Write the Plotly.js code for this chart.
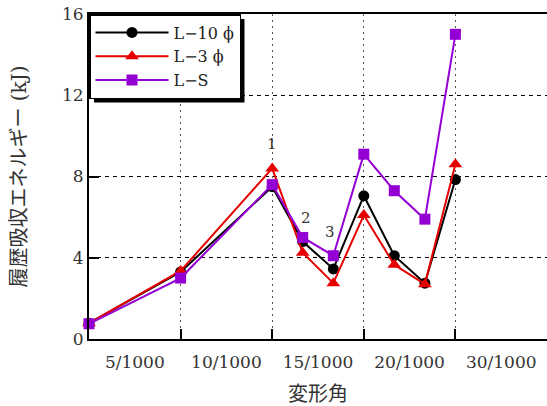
<!DOCTYPE html>
<html><head><meta charset="utf-8">
<script src="https://cdn.plot.ly/plotly-3.0.1.min.js"></script>
<style>html,body{margin:0;padding:0;background:#fff}#c{width:547px;height:406px}</style>
</head><body><div id="c"></div>
<script>
// deformation step (axis units: 1 per amplitude band)
const steps = [0, 1, 2, 2.333, 2.667, 3, 3.333, 3.667, 4];
const L10 = [0.78, 3.3, 7.5, 4.8, 3.45, 7.05, 4.1, 2.75, 7.85];
const L3  = [0.78, 3.35, 8.4, 4.25, 2.75, 6.1, 3.65, 2.7, 8.6];
const LS  = [0.75, 3.0, 7.6, 5.0, 4.1, 9.1, 7.3, 5.9, 15.0];
const seriesNames = ['L\u221210 \u03d5', 'L\u22123 \u03d5', 'L\u2212S'];
const bandCenters = [0.5, 1.5, 2.5, 3.5, 4.5];
const bandLabels = ['5/1000', '10/1000', '15/1000', '20/1000', '30/1000'];
const noteText = ['1', '2', '3'];
const noteX = [2, 2.37, 2.63];
const noteY = [9.6, 5.95, 5.25];

const FONT = 'DejaVu Serif, Liberation Serif, serif';
const JFONT = 'DejaVu Serif, Noto Sans CJK JP, serif';

const traces = [
  {x: steps, y: L10, name: seriesNames[0], mode: 'lines+markers', cliponaxis: false,
   line: {color: '#000000', width: 2}, marker: {symbol: 'circle', size: 11, color: '#000000'}},
  {x: steps, y: L3, name: seriesNames[1], mode: 'lines+markers', cliponaxis: false,
   line: {color: '#e60000', width: 2}, marker: {symbol: 'triangle-up', size: 12, color: '#e60000'}},
  {x: steps, y: LS, name: seriesNames[2], mode: 'lines+markers', cliponaxis: false,
   line: {color: '#9400d3', width: 2}, marker: {symbol: 'square', size: 11, color: '#9400d3'}},
  {x: bandCenters, y: bandCenters.map(() => null), xaxis: 'x2', showlegend: false, hoverinfo: 'skip', mode: 'markers'}
];

const PW = 458, PH = 325;
const layout = {
  width: 547, height: 406,
  margin: {l: 89, r: 0, t: 14, b: 67},
  paper_bgcolor: '#fff', plot_bgcolor: '#fff',
  showlegend: true,
  legend: {x: 0, y: 1, xanchor: 'left', yanchor: 'top', bgcolor: '#fff',
    bordercolor: '#000', borderwidth: 1.5, font: {family: FONT, size: 16, color: '#222'},
    itemwidth: 73, tracegroupgap: 0},
  xaxis: {range: [0, 5], tickvals: [1, 2, 3, 4], showticklabels: false,
    ticks: 'inside', ticklen: 10, tickwidth: 2, tickcolor: '#000',
    showline: true, linecolor: '#000', linewidth: 2, mirror: true,
    showgrid: true, gridcolor: '#555', gridwidth: 1.3, griddash: '2px,4px', zeroline: false,
    title: {text: '変形角', font: {family: JFONT, size: 20, color: '#333'}, standoff: 47}},
  xaxis2: {range: [0, 5], overlaying: 'x', side: 'bottom', tickvals: bandCenters, ticktext: bandLabels,
    ticks: '', showgrid: false, showline: false, zeroline: false, ticklabelstandoff: 11,
    tickfont: {family: FONT, size: 17, color: '#333'}},
  yaxis: {range: [0, 16], tickvals: [0, 4, 8, 12, 16],
    ticks: 'inside', ticklen: 10, tickwidth: 2, tickcolor: '#000',
    showline: true, linecolor: '#000', linewidth: 2,
    showgrid: true, gridcolor: '#000', gridwidth: 1, griddash: '4px,4px', zeroline: false,
    tickfont: {family: FONT, size: 17, color: '#333'},
    title: {text: '履歴吸収エネルギー (kJ)', font: {family: JFONT, size: 20, color: '#333'}, standoff: 30}},
  shapes: [],
  annotations: noteText.map((t, i) => ({x: noteX[i], y: noteY[i], text: t, showarrow: false,
    font: {family: FONT, size: 15, color: '#333'}}))
};

Plotly.newPlot('c', traces, layout, {displayModeBar: false, staticPlot: true}).then(gd => {
  const bg = gd.querySelector('.legend .bg');
  if (!bg) return;
  const w = parseFloat(bg.getAttribute('width')), h = parseFloat(bg.getAttribute('height'));
  const off = 5;
  return Plotly.relayout(gd, {shapes: [{type: 'rect', xref: 'paper', yref: 'paper', layer: 'above',
    x0: off / PW, x1: (w + off) / PW, y0: 1 - (h + off) / PH, y1: 1 - off / PH,
    fillcolor: '#000', line: {width: 0}}]});
});
</script></body></html>
